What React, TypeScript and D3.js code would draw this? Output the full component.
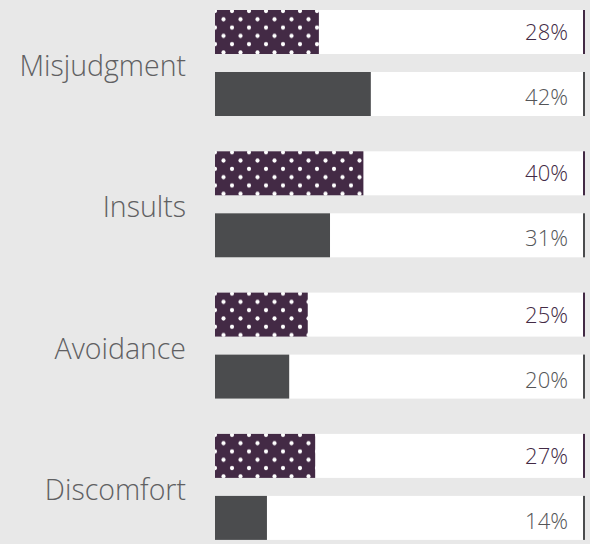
import React from 'react';
import * as d3 from 'd3';

const categories = ['Misjudgment', 'Insults', 'Avoidance', 'Discomfort'];
const dottedValues = [28, 40, 25, 27];
const solidValues = [42, 31, 20, 14];

const W = 590;
const H = 544;
const PURPLE = '#432a45';
const DARK = '#4b4c4e';
const BG = '#e8e8e8';

export default function App() {
  const x = d3.scaleLinear().domain([0, 100]).range([215, 586]);
  const y = d3.scaleBand<string>().domain(categories).range([10, 10 + 4 * 141.3]).padding(0);
  const barH = 44;
  const solidOffset = 62;
  const trackEnd = 583;
  const font = '"Open Sans", Lato, sans-serif';
  const r = 2.1;

  return (
    <svg width={W} height={H} style={{ position: 'absolute', left: 0, top: 0, background: BG }}>
      <defs>
        {categories.map((c, i) => {
          const top = y(c)!;
          return (
            <pattern key={c} id={`dots${i}`} patternUnits="userSpaceOnUse" x={x(0)} y={top + 1} width={17} height={16.6}>
              <rect x={0} y={0} width={17} height={16.6} fill={PURPLE} />
              <circle cx={0} cy={0} r={r} fill="#fff" />
              <circle cx={17} cy={0} r={r} fill="#fff" />
              <circle cx={0} cy={16.6} r={r} fill="#fff" />
              <circle cx={17} cy={16.6} r={r} fill="#fff" />
              <circle cx={8.5} cy={8.3} r={r} fill="#fff" />
            </pattern>
          );
        })}
      </defs>
      <rect x={0} y={0} width={W} height={H} fill={BG} />
      {categories.map((c, i) => {
        const top = y(c)!;
        const top2 = top + solidOffset;
        return (
          <g key={c}>
            <text x={186} y={top + 66} textAnchor="end" fontFamily={font} fontWeight={300} fontSize={28.5} fill="#606062">
              {c}
            </text>
            <rect x={x(0)} y={top} width={trackEnd - x(0)} height={barH} fill="#fff" />
            <rect x={x(0)} y={top} width={x(dottedValues[i]) - x(0)} height={barH} fill={`url(#dots${i})`} />
            <rect x={trackEnd} y={top} width={2} height={barH} fill={PURPLE} />
            <text x={568} y={top + barH / 2 + 8} textAnchor="end" fontFamily={font} fontWeight={300} fontSize={22} fill={PURPLE}>
              {dottedValues[i]}%
            </text>
            <rect x={x(0)} y={top2} width={trackEnd - x(0)} height={barH} fill="#fff" />
            <rect x={x(0)} y={top2} width={x(solidValues[i]) - x(0)} height={barH} fill={DARK} />
            <rect x={trackEnd} y={top2} width={2} height={barH} fill={DARK} />
            <text x={568} y={top2 + barH / 2 + 11} textAnchor="end" fontFamily={font} fontWeight={300} fontSize={22} fill="#545557">
              {solidValues[i]}%
            </text>
          </g>
        );
      })}
    </svg>
  );
}
